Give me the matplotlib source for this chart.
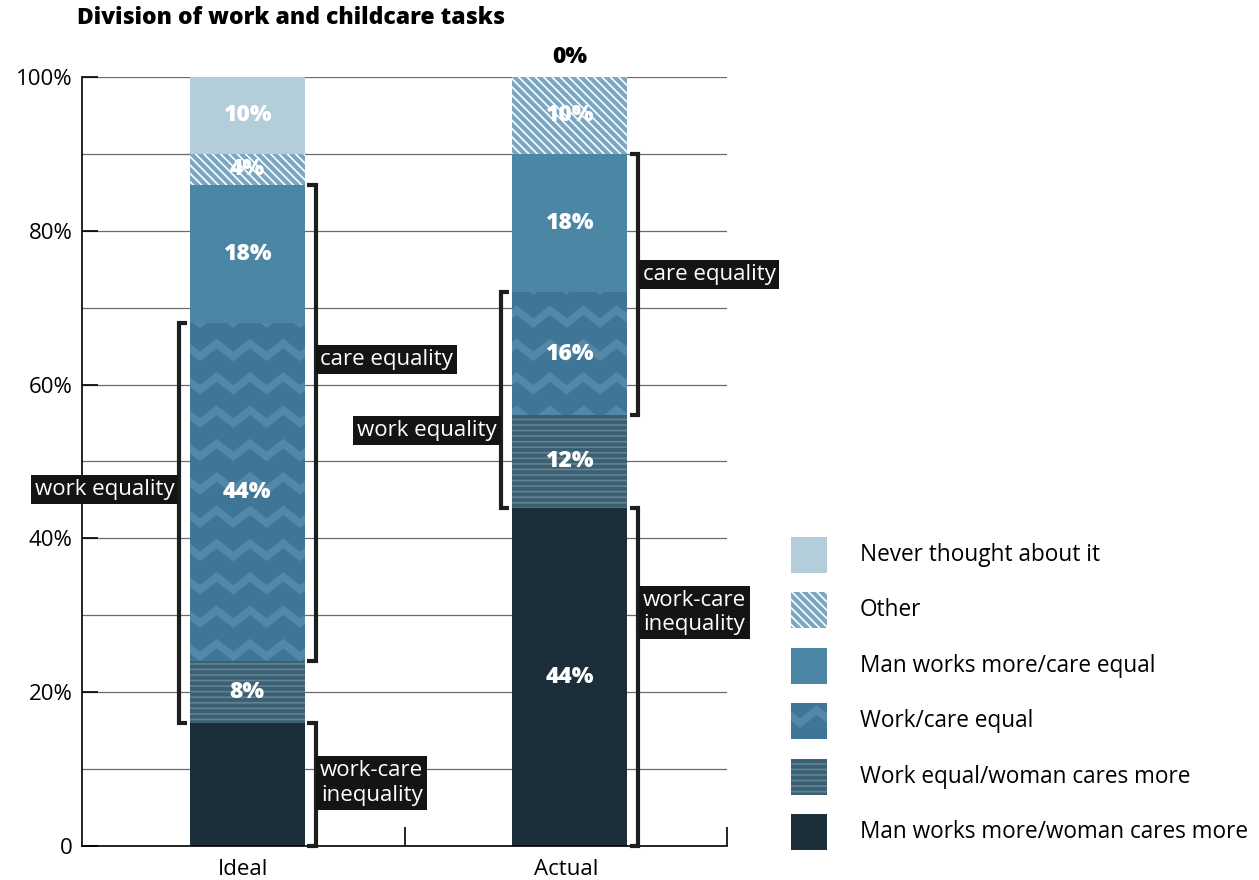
import warnings
import numpy as np
import matplotlib
matplotlib.use("Agg")
import matplotlib.pyplot as plt
import matplotlib.hatch as mhatch
from matplotlib.path import Path
from matplotlib.patches import Rectangle

warnings.filterwarnings("ignore")

# ---- data ----
categories = ["Ideal", "Actual"]
series = ["Man works more/woman cares more", "Work equal/woman cares more",
          "Work/care equal", "Man works more/care equal", "Other",
          "Never thought about it"]
man_more_woman_more = [16, 44]
work_equal_woman_more = [8, 12]
work_care_equal = [44, 16]
man_more_care_equal = [18, 18]
other = [4, 10]
never_thought = [10, 0]
values = [man_more_woman_more, work_equal_woman_more, work_care_equal,
          man_more_care_equal, other, never_thought]

# groups marked by brackets: label, first series, last series, side
groups = [("work equality", 1, 2, "left"),
          ("care equality", 2, 3, "right"),
          ("work-care\ninequality", 0, 0, "right")]

# ---- style ----
BS = chr(92)
face = ['#1b2e3a', '#3b6073', '#3f7697', '#4b86a5', '#7aa7c1', '#b3cdda']
hatch_col = [face[0], '#628391', '#5587a7', face[3], 'white', face[5]]
hatches = [None, '---', 'z', None, BS * 4, None]
# vertical position of each bracket label (per category, per group)
label_y = [[46.3, 63.2, 8.2], [54.0, 74.3, 30.4]]
# segment labels left out in the original (series, category)
no_label = [(0, 0)]


# zigzag hatch ('z'): light chevron bands, 3 rows x 3 waves per tile
class ZigZagHatch(mhatch.HatchPatternBase):
    rows, waves, amp, thick = 3, 3, 0.13, 0.075

    def __init__(self, hatch, density):
        self.on = 'z' in hatch
        n = 2 * self.waves + 1
        self.num_vertices = self.rows * (2 * n + 1) if self.on else 0

    def set_vertices_and_codes(self, vertices, codes):
        n = 2 * self.waves + 1
        xs = np.linspace(0, 1, n)
        k = np.arange(n)
        cur = 0
        for r in range(self.rows):
            yc = (r + 0.5) / self.rows - self.amp / 2 + self.amp * (k % 2)
            top = np.column_stack([xs, yc + self.thick / 2])
            bot = np.column_stack([xs[::-1], (yc - self.thick / 2)[::-1]])
            poly = np.vstack([top, bot, top[:1]])
            m = len(poly)
            vertices[cur:cur + m] = poly
            codes[cur] = Path.MOVETO
            codes[cur + 1:cur + m - 1] = Path.LINETO
            codes[cur + m - 1] = Path.CLOSEPOLY
            cur += m


mhatch._hatch_types.append(ZigZagHatch)

plt.rcParams['font.family'] = ['Open Sans', 'DejaVu Sans']
plt.rcParams['hatch.linewidth'] = 1.2

W, H = 1259, 880
fig = plt.figure(figsize=(W / 100, H / 100), dpi=100)
ax = fig.add_axes([82 / W, 1 - 846 / H, (727 - 82) / W, (846 - 77) / H])

x = np.arange(len(categories)) + 0.5
width = 0.357
bottom = np.zeros(len(categories))
cum = [bottom.copy()]
for i, name in enumerate(series):
    v = np.array(values[i], float)
    ax.bar(x + 0.012, v, width, bottom=bottom, color=face[i], edgecolor=hatch_col[i],
           linewidth=0, hatch=hatches[i], zorder=2)
    for ci, (xi, b, val) in enumerate(zip(x + 0.012, bottom, v)):
        if (i, ci) in no_label:
            continue
        if val > 0:
            ax.text(xi, b + val / 2, f"{val:.0f}%", ha='center', va='center',
                    color='white', fontsize=16.5, fontweight='heavy', zorder=4)
        else:
            ax.text(xi, b + 2.6, f"{val:.0f}%", ha='center', va='center',
                    color='black', fontsize=16.5, fontweight='heavy', clip_on=False)
    bottom = bottom + v
    cum.append(bottom.copy())

# brackets
gap, tick = 0.034, 0.026
for ci, xi in enumerate(x + 0.012):
    for gi, (label, first, last, side) in enumerate(groups):
        lo, hi = cum[first][ci], cum[last + 1][ci]
        if side == "left":
            x0 = xi - width / 2 - gap
            xt = x0 + tick
        else:
            x0 = xi + width / 2 + gap
            xt = x0 - tick
        ax.plot([xt, x0, x0, xt], [lo, lo, hi, hi], color='#1e1e1e', lw=3,
                solid_joinstyle='miter', solid_capstyle='butt', clip_on=False, zorder=3)
        off = -3.2 if side == "left" else 3.2
        ax.annotate(label, xy=(x0, label_y[ci][gi]), xytext=(off, 0),
                    textcoords='offset points', ha='right' if side == "left" else 'left',
                    va='center', multialignment='center', color='white', fontsize=16,
                    bbox=dict(boxstyle='square,pad=0.18', fc='#141414', ec='none'),
                    zorder=5, annotation_clip=False)

# axes styling
ax.set_xlim(0, 2)
ax.set_ylim(0, 100)
ax.spines['top'].set_visible(False)
ax.spines['right'].set_visible(False)
for s in ['left', 'bottom']:
    ax.spines[s].set_linewidth(1.2)
    ax.spines[s].set_color('black')

ax.set_yticks(range(0, 101, 20))
ax.set_yticks(range(0, 101, 10), minor=True)
ax.set_yticklabels(['0' if v == 0 else f"{v}%" for v in range(0, 101, 20)])
ax.tick_params(axis='y', which='major', direction='in', length=11.5, width=1.2,
               pad=7, labelsize=16)
ax.tick_params(axis='y', which='minor', length=0)
ax.yaxis.grid(True, which='both', color='#6b6b6b', lw=0.9)
ax.set_axisbelow(True)

ax.set_xticks([1, 2])
ax.set_xticklabels([])
ax.set_xticks(x, minor=True)
ax.set_xticklabels(categories, minor=True)
ax.tick_params(axis='x', which='major', direction='in', length=13.5, width=1.2)
ax.tick_params(axis='x', which='minor', length=0, pad=9, labelsize=16)

fig.text(77 / W, 1 - 18 / H, "Division of work and childcare tasks",
         fontsize=16.5, fontweight='heavy', va='center', ha='left')

# legend, top to bottom
for j, i in enumerate(reversed(range(len(series)))):
    yc = 555 + j * 55.4
    fig.add_artist(Rectangle((791 / W, 1 - (yc + 18) / H), 36 / W, 36 / H,
                             transform=fig.transFigure, facecolor=face[i],
                             edgecolor=hatch_col[i], lw=0, hatch=hatches[i]))
    fig.text(860 / W, 1 - yc / H, series[i], fontsize=16.3, va='center', ha='left')

fig.savefig("out.png", dpi=100)
